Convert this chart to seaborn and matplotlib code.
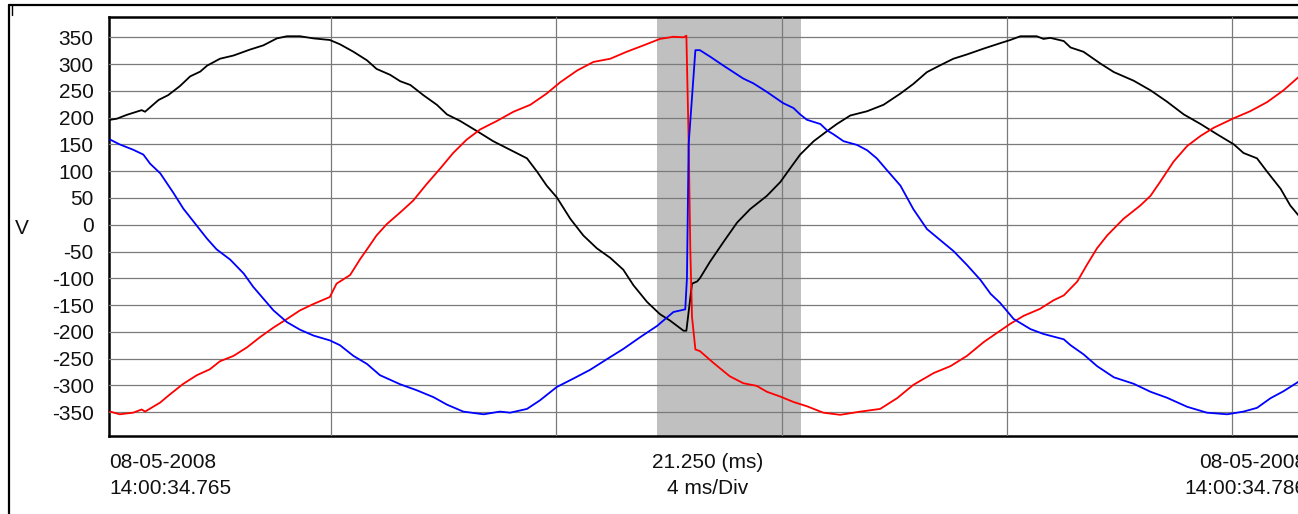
import matplotlib
matplotlib.use("Agg")
import matplotlib.pyplot as plt
from matplotlib.lines import Line2D
import seaborn as sns
import pandas as pd

# ---- data (time in ms from window start, voltage in V) ----
black_t = [0.02, 0.14, 0.31, 0.58, 0.64, 0.88, 1.05, 1.26, 1.44, 1.62, 1.74, 1.97, 2.21, 2.50, 2.74, 2.98,
           3.16, 3.39, 3.63, 3.92, 4.10, 4.34, 4.58, 4.75, 4.99, 5.17, 5.35, 5.58, 5.82, 6.00, 6.23, 6.53,
           6.82, 7.12, 7.42, 7.60, 7.77, 7.95, 8.19, 8.42, 8.66, 8.90, 9.13, 9.31, 9.55, 9.78, 9.96, 10.20,
           10.25, 10.35, 10.44, 10.49, 10.67, 10.91, 11.15, 11.38, 11.68, 11.92, 12.09, 12.27, 12.51, 12.75,
           12.92, 13.16, 13.46, 13.75, 14.05, 14.28, 14.52, 14.76, 14.99, 15.23, 15.53, 15.82, 16.00, 16.18,
           16.47, 16.59, 16.71, 16.95, 17.07, 17.30, 17.60, 17.84, 18.19, 18.49, 18.78, 19.08, 19.38, 19.67,
           19.97, 20.14, 20.38, 20.56, 20.80, 20.97, 21.12]
black_v = [196, 198, 205, 214, 211, 233, 242, 259, 277, 286, 297, 310, 316, 327, 335, 348,
           352, 352, 348, 345, 337, 323, 307, 291, 280, 268, 261, 242, 224, 206, 194, 175,
           156, 140, 124, 99, 73, 51, 11, -20, -44, -62, -84, -113, -144, -167, -179, -198,
           -198, -110, -106, -100, -69, -32, 4, 29, 54, 80, 105, 131, 156, 175,
           188, 204, 212, 224, 245, 263, 285, 298, 310, 318, 329, 339, 345, 352,
           352, 347, 349, 343, 331, 323, 301, 285, 269, 251, 230, 206, 188, 169,
           150, 134, 124, 99, 67, 36, 17]

red_t = [0.02, 0.19, 0.43, 0.58, 0.64, 0.91, 1.08, 1.32, 1.56, 1.79, 1.97, 2.21, 2.45, 2.68, 2.92, 3.16,
         3.39, 3.63, 3.92, 4.04, 4.28, 4.46, 4.58, 4.75, 4.93, 5.17, 5.40, 5.64, 5.88, 6.11, 6.35, 6.59,
         6.89, 7.18, 7.48, 7.77, 8.01, 8.31, 8.60, 8.90, 9.19, 9.49, 9.78, 10.02, 10.20, 10.25, 10.29,
         10.32, 10.35, 10.41, 10.49, 10.73, 11.02, 11.26, 11.50, 11.68, 11.92, 12.15, 12.39, 12.68, 12.98,
         13.34, 13.69, 13.99, 14.28, 14.64, 14.94, 15.23, 15.53, 15.82, 16.00, 16.24, 16.53, 16.77, 16.95,
         17.19, 17.36, 17.54, 17.72, 18.01, 18.31, 18.49, 18.66, 18.90, 19.14, 19.38, 19.61, 19.97, 20.26,
         20.56, 20.85, 21.12]
red_v = [-349, -354, -351, -345, -349, -332, -317, -297, -281, -270, -255, -245, -229, -210, -192, -176,
         -160, -148, -135, -110, -94, -64, -46, -20, 1, 23, 45, 76, 105, 134, 159, 178,
         194, 211, 224, 245, 266, 288, 304, 310, 323, 335, 347, 351, 350, 353, 158,
         -47, -172, -233, -236, -258, -283, -296, -301, -312, -321, -331, -339, -351, -355,
         -349, -344, -324, -299, -277, -264, -245, -219, -198, -185, -170, -157, -141, -132,
         -106, -75, -44, -20, 11, 36, 54, 80, 118, 147, 166, 181, 199, 212,
         229, 251, 276]

blue_t = [0.02, 0.19, 0.43, 0.61, 0.73, 0.91, 1.14, 1.32, 1.56, 1.74, 1.91, 2.15, 2.39, 2.56, 2.74, 2.92,
          3.16, 3.39, 3.63, 3.92, 4.10, 4.34, 4.58, 4.81, 5.17, 5.46, 5.76, 6.00, 6.29, 6.65, 6.94, 7.12,
          7.42, 7.65, 7.95, 8.25, 8.54, 8.84, 9.13, 9.43, 9.73, 10.02, 10.23, 10.26, 10.29, 10.41, 10.49,
          10.67, 10.91, 11.26, 11.44, 11.68, 11.97, 12.15, 12.27, 12.39, 12.63, 12.75, 12.86, 13.04, 13.28,
          13.46, 13.63, 13.81, 14.05, 14.28, 14.52, 14.76, 14.99, 15.23, 15.47, 15.65, 15.82, 16.06, 16.36,
          16.59, 16.95, 17.07, 17.30, 17.54, 17.84, 18.19, 18.49, 18.78, 19.14, 19.49, 19.85, 20.14, 20.38,
          20.62, 20.85, 21.12]
blue_v = [159, 150, 140, 131, 114, 96, 60, 30, -2, -26, -46, -65, -91, -116, -138, -160,
          -182, -196, -207, -216, -225, -245, -260, -281, -298, -309, -322, -336, -349, -354, -349, -351,
          -344, -328, -303, -287, -271, -251, -232, -210, -189, -163, -158, -100, 150, 326, 326,
          314, 297, 273, 264, 248, 227, 218, 206, 196, 188, 176, 169, 156, 149,
          139, 124, 102, 73, 29, -8, -29, -49, -75, -103, -129, -146, -176, -195,
          -204, -214, -225, -242, -264, -285, -297, -312, -323, -340, -351, -354, -349, -342,
          -324, -311, -293]

y_ticks = list(range(-350, 351, 50))
cursor_span = (9.73, 12.29)          # shaded cursor region (ms)
x_range = (0.0, 21.25)
y_range = (-394, 388.5)
grid_x = [3.94, 7.94, 11.94, 15.94, 19.94]
start_date, start_time = "08-05-2008", "14:00:34.765"
end_date, end_time = "08-05-2008", "14:00:34.786"
center_top, center_bottom = "21.250 (ms)", "4 ms/Div"
y_label = "V"

# ---- plot ----
sns.set_theme(style="white")
plt.rcParams['font.family'] = ['Liberation Sans', 'DejaVu Sans']
FS = 15

fig = plt.figure(figsize=(12.98, 5.14), dpi=100)
W, H = 1298, 514
ax = fig.add_axes([109 / W, 1 - 435.7 / H, (1306 - 109) / W, (435.7 - 16.7) / H])

ax.axvspan(*cursor_span, color="#c0c0c0", zorder=0, lw=0)

for t, v, c in [(black_t, black_v, "black"), (red_t, red_v, "#ff0000"), (blue_t, blue_v, "#0000ff")]:
    df = pd.DataFrame({"t": t, "v": v})
    sns.lineplot(data=df, x="t", y="v", ax=ax, color=c, lw=1.3, sort=False,
                 estimator=None, legend=False, zorder=3)

ax.set_xlim(*x_range)
ax.set_ylim(*y_range)
ax.set_yticks(y_ticks)
ax.set_yticklabels([str(v) for v in y_ticks], fontsize=FS, color="#111111")
ax.set_xticks(grid_x)
ax.set_xticklabels([])
ax.tick_params(axis="both", length=0)
ax.tick_params(axis="y", pad=11)
ax.grid(True, color="#7a7a7a", lw=0.9, zorder=1)
ax.set_axisbelow(False)
for ln in ax.get_xgridlines() + ax.get_ygridlines():
    ln.set_zorder(1)
ax.set_xlabel("")
ax.set_ylabel("")

for side in ["left", "top", "bottom"]:
    ax.spines[side].set_visible(True)
    ax.spines[side].set_color("black")
    ax.spines[side].set_linewidth(1.8)
ax.spines["right"].set_visible(False)

# outer frame
fig.add_artist(Line2D([9 / W, 9 / W], [0, 1 - 4.5 / H], color="black", lw=1.6))
fig.add_artist(Line2D([9 / W, 1], [1 - 4.5 / H, 1 - 4.5 / H], color="black", lw=1.6))
fig.add_artist(Line2D([11.5 / W, 11.5 / W], [1 - 5 / H, 1 - 15 / H], color="black", lw=1.0))

fig.text(22 / W, 1 - 228 / H, y_label, fontsize=FS, ha="center", va="center", color="#111111")

xl = 109 / W
xr = 1306 / W
xc = (109 + 1306) / 2 / W
y1 = 1 - 462 / H
y2 = 1 - 489 / H
fig.text(xl, y1, start_date, fontsize=FS, ha="left", va="center", color="#111111")
fig.text(xl, y2, start_time, fontsize=FS, ha="left", va="center", color="#111111")
fig.text(xr, y1, end_date, fontsize=FS, ha="right", va="center", color="#111111")
fig.text(xr, y2, end_time, fontsize=FS, ha="right", va="center", color="#111111")
fig.text(xc, y1, center_top, fontsize=FS, ha="center", va="center", color="#111111")
fig.text(xc, y2, center_bottom, fontsize=FS, ha="center", va="center", color="#111111")

fig.savefig("out.png", dpi=100)
